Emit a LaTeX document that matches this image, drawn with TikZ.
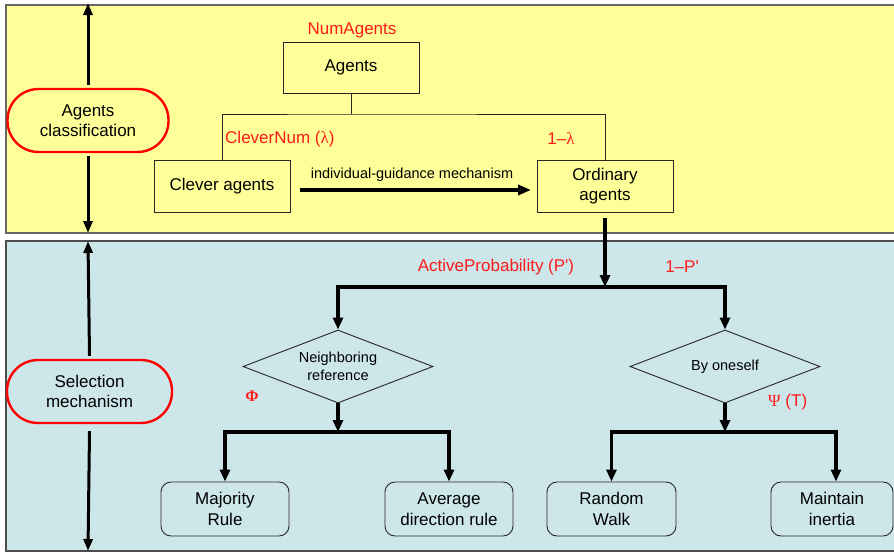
\documentclass[tikz,border=0pt]{standalone}
\usepackage{fontspec}
\setmainfont{Liberation Sans}
\newfontfamily\plainsans{Liberation Sans}
\newfontfamily\symserif{Liberation Serif}
\usetikzlibrary{arrows.meta,shapes.geometric}
\definecolor{panelyellow}{HTML}{FFFF99}
\definecolor{panelblue}{HTML}{CDE6EA}
\definecolor{redlabel}{HTML}{FF1A1A}
\begin{document}
\begin{tikzpicture}[x=1pt,y=-1pt,
  big/.style={font=\fontsize{17}{20.5}\selectfont},
  small/.style={font=\fontsize{14.5}{18}\selectfont},
  ybox/.style={draw=black!85, line width=0.9pt, fill=panelyellow, rectangle, minimum width=136pt, minimum height=52pt, inner sep=0pt, align=center, big},
  rbox/.style={draw=black!85, line width=0.9pt, fill=panelblue, rectangle, rounded corners=10pt, minimum width=128pt, minimum height=54pt, inner sep=0pt, align=center, big},
  dia/.style={draw=black!85, line width=0.9pt, fill=panelblue, diamond, aspect=2.6, minimum width=190pt, minimum height=73pt, inner sep=0pt, align=center, small},
  oval/.style={draw=red, line width=2.4pt, rectangle, rounded corners=31pt, minimum height=63pt, inner sep=0pt, align=center, big},
  lbl/.style={text=redlabel, big, inner sep=0pt},
  thin/.style={draw=black!85, line width=0.9pt},
  bar/.style={line width=3.6pt, -{Triangle[length=12pt,width=10pt]}},
  side/.style={line width=3pt, -{Triangle[length=12pt,width=9pt]}}
]
\useasboundingbox (0,0) rectangle (894,552);
% panels
\fill[panelyellow] (6,5) rectangle (895,233);
\draw[black!60, line width=1.3pt] (895,5) -- (6,5) -- (6,233) -- (895,233);
\fill[panelblue] (6,241) rectangle (895,551);
\draw[black!70, line width=1.3pt] (895,241) -- (6,241) -- (6,551) -- (895,551);

% left ovals and arrows
\node[oval, fill=panelyellow, minimum width=161pt] (ac) at (88,120.5) {Agents\\classification};
\node[oval, fill=panelblue, minimum width=165pt] (sm) at (89.5,391.5) {Selection\\mechanism};
\coordinate (t1) at (88,3);
\coordinate (t2) at (88,233);
\coordinate (t3) at (88,241);
\coordinate (t4) at (88,551);
\draw[side] ([yshift=3pt]ac.north) -- (t1);
\draw[side] ([yshift=-3pt]ac.south) -- (t2);
\draw[side] ([yshift=3pt]sm.north) -- (t3);
\draw[side] ([yshift=-7pt]sm.south) -- (t4);

% agents classification
\node[ybox, minimum height=51pt] (ag) at (351,67.5) {Agents};
\node[ybox] (cl) at (222,186) {Clever agents};
\node[ybox] (or) at (605,186) {Ordinary\\agents};
\coordinate (s1) at (351,114);
\draw[thin] (ag.south) -- (s1);
\draw[thin] (cl.north) |- (s1) -| (or.north);
\node[lbl] (na) at (352,30) {NumAgents};
\node[lbl, anchor=west] (cn) at (225,139) {CleverNum ({\symserif λ})};
\node[lbl] (ol) at (561,139) {1–{\symserif λ}};
\coordinate (ig1) at (300,190);
\coordinate (ig2) at (531,190);
\draw[line width=3.6pt, -{Triangle[length=13pt,width=10pt]}] (ig1) -- (ig2);
\node[small, inner sep=0pt] (igl) at (412,175) {individual-guidance mechanism};

% selection
\coordinate (j1) at (605,287);
\node[dia] (nd) at (338,366.5) {Neighboring\\reference};
\node[dia] (od) at (725,366.5) {By oneself};
\draw[bar] ([yshift=-6pt]or.south) -- (j1);
\draw[bar] (j1) -| (nd.north);
\draw[bar] (j1) -| (od.north);
\node[lbl, font=\plainsans\fontsize{17}{20}\selectfont] (ap) at (496,267) {ActiveProbability (P')};
\node[lbl, font=\plainsans\fontsize{17}{20}\selectfont] (pp) at (682,267) {1–P'};
\node[lbl, font=\symserif\bfseries\fontsize{16}{18}\selectfont] (phi) at (252,396) {Φ};
\node[lbl, anchor=west] (psi) at (768,402) {{\symserif Ψ} (T)};

\node[rbox] (mr) at (225,509) {Majority\\Rule};
\node[rbox] (ad) at (449,509) {Average\\direction rule};
\node[rbox, minimum width=129pt] (rw) at (611.5,509) {Random\\Walk};
\node[rbox, minimum width=122pt] (mi) at (832,509) {Maintain\\inertia};
\coordinate (j2) at (338,432);
\coordinate (j3) at (725,432);
\draw[bar] (nd.south) -- (j2);
\draw[bar] (j2) -| (mr.north);
\draw[bar] (j2) -| (ad.north);
\draw[bar] (od.south) -- (j3);
\draw[bar] (j3) -| (rw.north);
\draw[bar] (j3) -| ([xshift=4pt]mi.north);
\end{tikzpicture}
\end{document}
